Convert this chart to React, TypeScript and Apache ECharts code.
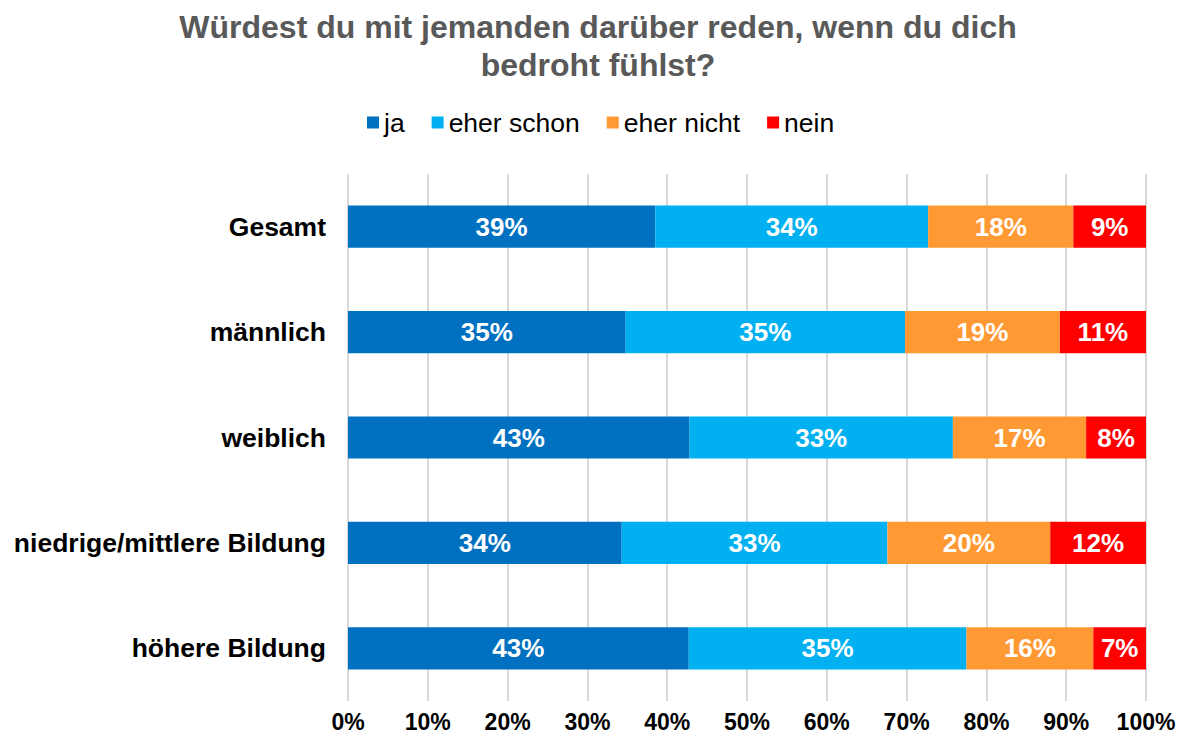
import React, { useEffect, useRef } from "react";
import * as echarts from "echarts";

const categories = ["Gesamt", "männlich", "weiblich", "niedrige/mittlere Bildung", "höhere Bildung"];
const seriesNames = ["ja", "eher schon", "eher nicht", "nein"];
const ja = [38.5, 34.8, 42.8, 34.3, 42.7];
const eherSchon = [34.2, 35.0, 33.0, 33.3, 34.8];
const eherNicht = [18.2, 19.4, 16.7, 20.4, 15.9];
const nein = [9.1, 10.8, 7.5, 12.0, 6.6];
const colors = ["#0070C0", "#00B0F0", "#FF9933", "#FF0000"];
const xTicks = [0, 10, 20, 30, 40, 50, 60, 70, 80, 90, 100];

export default function App() {
  const ref = useRef<HTMLDivElement>(null);
  useEffect(() => {
    if (!ref.current) return;
    const chart = echarts.init(ref.current, undefined, { renderer: "svg" });
    const values = [ja, eherSchon, eherNicht, nein];
    const font = "Liberation Sans, Arial, sans-serif";
    chart.setOption({
      animation: false,
      textStyle: { fontFamily: font },
      title: {
        text: "Würdest du mit jemanden darüber reden, wenn du dich\nbedroht fühlst?",
        left: 598,
        top: 8,
        padding: 0,
        textAlign: "center",
        textStyle: { fontFamily: font, fontSize: 32, fontWeight: "bold", color: "#595959", lineHeight: 38 },
      },
      legend: {
        data: seriesNames,
        left: 367,
        top: 109,
        padding: 0,
        itemWidth: 12,
        itemHeight: 12,
        itemGap: 27,
        icon: "rect",
        textStyle: { fontFamily: font, fontSize: 26.5, color: "#000" },
      },
      grid: { left: 348, right: 34, top: 174, height: 527, containLabel: false },
      xAxis: {
        type: "value",
        min: 0,
        max: 100,
        interval: 10,
        axisLine: { show: false },
        axisTick: { show: false },
        splitLine: { lineStyle: { color: "#D9D9D9", width: 2 } },
        axisLabel: {
          formatter: (v: number) => (xTicks.includes(v) ? v + "%" : ""),
          fontFamily: font,
          fontSize: 23,
          fontWeight: "bold",
          color: "#000",
          margin: 9,
        },
      },
      yAxis: {
        type: "category",
        data: categories,
        inverse: true,
        axisLine: { show: false },
        axisTick: { show: false },
        axisLabel: { fontFamily: font, fontSize: 26.5, fontWeight: "bold", color: "#000", margin: 22 },
      },
      series: seriesNames.map((name, i) => ({
        name,
        type: "bar",
        stack: "total",
        barCategoryGap: "60%",
        data: values[i],
        itemStyle: { color: colors[i] },
        label: {
          show: true,
          position: "inside",
          formatter: (p: any) => Math.round(p.value) + "%",
          fontFamily: font,
          fontSize: 26,
          fontWeight: "bold",
          color: "#fff",
        },
      })),
    });
    return () => chart.dispose();
  }, []);
  return (
    <div
      ref={ref}
      style={{ position: "fixed", left: 0, top: 0, width: 1180, height: 737, background: "#fff" }}
    />
  );
}
